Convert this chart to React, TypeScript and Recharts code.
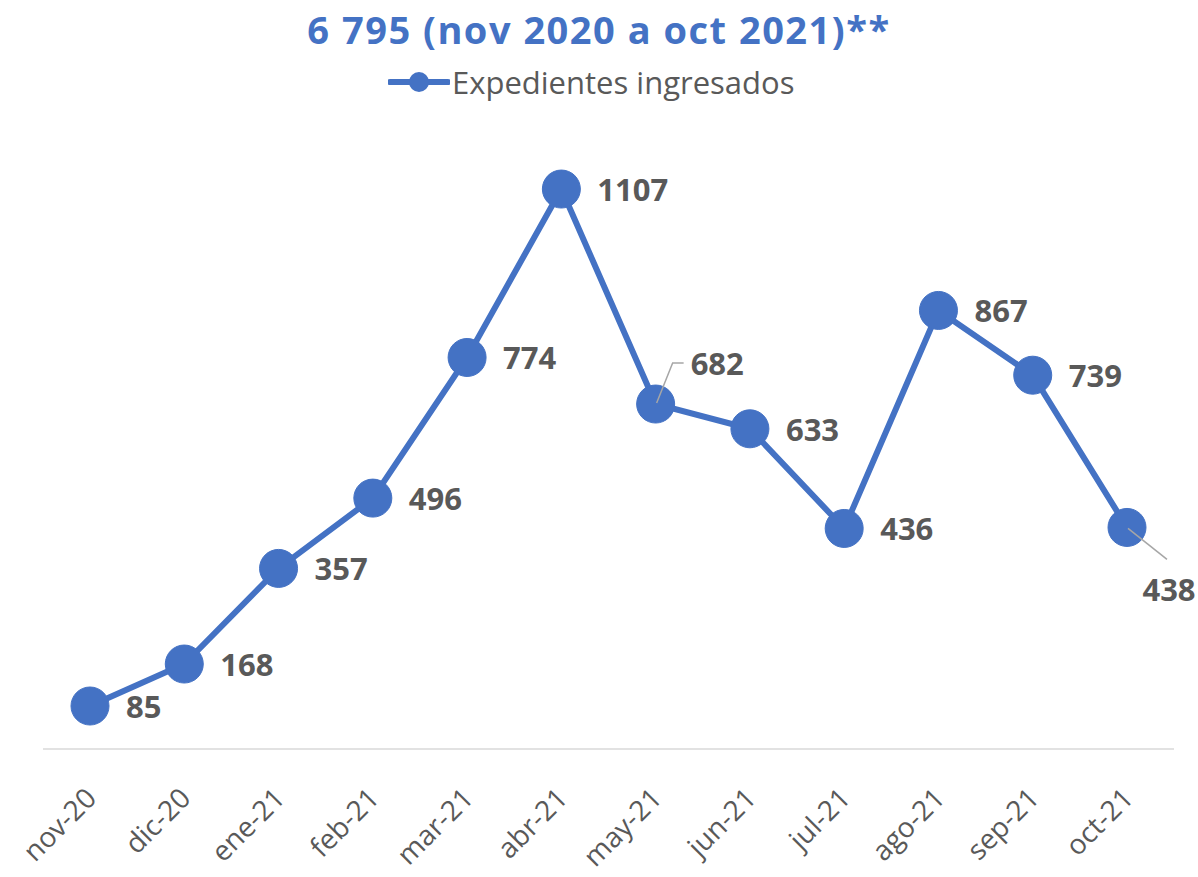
import React from 'react';
import { LineChart, Line, XAxis, YAxis, LabelList } from 'recharts';

const months = ['nov-20', 'dic-20', 'ene-21', 'feb-21', 'mar-21', 'abr-21', 'may-21', 'jun-21', 'jul-21', 'ago-21', 'sep-21', 'oct-21'];
const expedientes = [85, 168, 357, 496, 774, 1107, 682, 633, 436, 867, 739, 438];
const title = '6 795 (nov 2020 a oct 2021)**';
const seriesName = 'Expedientes ingresados';

const BLUE = '#4472C4';
const GRAY = '#595959';
const FONT = '"Open Sans", "Liberation Sans", sans-serif';

const data = months.map((m, i) => ({ month: m, value: expedientes[i] }));

// rotated category labels, like Excel's -45° ticks
const MonthTick = (props: any) => {
    const { x, y, payload } = props;
    const ax = x + 8;
    const ay = y + 43;
    return (
        <text
            x={ax}
            y={ay}
            transform={`rotate(-45, ${ax}, ${ay})`}
            textAnchor="end"
            fill={GRAY}
            fontSize={28}
            fontFamily={FONT}
        >
            {payload.value}
        </text>
    );
};

const ValueLabel = (props: any) => {
    const { x, y, value, index } = props;
    const style = { fill: GRAY, fontSize: 31, fontWeight: 700, fontFamily: FONT };
    if (index === 6) {
        // callout above right with leader line
        return (
            <g>
                <polyline
                    points={`${x + 1},${y - 1} ${x + 17},${y - 41} ${x + 28},${y - 41}`}
                    fill="none"
                    stroke="#A6A6A6"
                    strokeWidth={1.5}
                />
                <text x={x + 35} y={y - 29} textAnchor="start" {...style}>{value}</text>
            </g>
        );
    }
    if (index === 11) {
        return (
            <g>
                <line x1={x + 1} y1={y + 1} x2={x + 40} y2={y + 32} stroke="#A6A6A6" strokeWidth={1.5} />
                <text x={x + 42} y={y + 74} textAnchor="middle" {...style}>{value}</text>
            </g>
        );
    }
    return (
        <text x={x + 36} y={y + 12} textAnchor="start" {...style}>{value}</text>
    );
};

export default function App() {
    return (
        <div style={{ position: 'absolute', left: 0, top: 0, width: 1198, height: 877, background: '#fff' }}>
            <div
                style={{
                    position: 'absolute',
                    top: 4,
                    left: 0,
                    width: 1198,
                    textAlign: 'center',
                    color: BLUE,
                    fontFamily: FONT,
                    fontWeight: 700,
                    fontSize: 38,
                    letterSpacing: 1.5,
                    lineHeight: '50px',
                }}
            >
                {title}
            </div>
            <div
                style={{
                    position: 'absolute',
                    top: 61,
                    left: 388,
                    display: 'flex',
                    alignItems: 'center',
                    fontFamily: FONT,
                    fontSize: 31,
                    color: GRAY,
                    lineHeight: '42px',
                }}
            >
                <svg width={62} height={24} style={{ marginRight: 2 }}>
                    <line x1={2} y1={12} x2={60} y2={12} stroke={BLUE} strokeWidth={6} strokeLinecap="round" />
                    <circle cx={31} cy={12} r={10} fill={BLUE} />
                </svg>
                <span>{seriesName}</span>
            </div>
            <LineChart
                width={1198}
                height={877}
                data={data}
                margin={{ top: 142, right: 24, left: 43, bottom: 0 }}
            >
                <XAxis
                    dataKey="month"
                    height={128}
                    padding={{ left: 47, right: 47 }}
                    axisLine={{ stroke: '#D9D9D9', strokeWidth: 1.5 }}
                    tickLine={false}
                    interval={0}
                    tick={<MonthTick />}
                />
                <YAxis hide domain={[0, 1200]} />
                <Line
                    type="linear"
                    dataKey="value"
                    name={seriesName}
                    stroke={BLUE}
                    strokeWidth={6}
                    dot={{ r: 19, fill: BLUE, stroke: BLUE, strokeWidth: 1 }}
                    activeDot={false}
                    isAnimationActive={false}
                >
                    <LabelList dataKey="value" content={<ValueLabel />} />
                </Line>
            </LineChart>
        </div>
    );
}
